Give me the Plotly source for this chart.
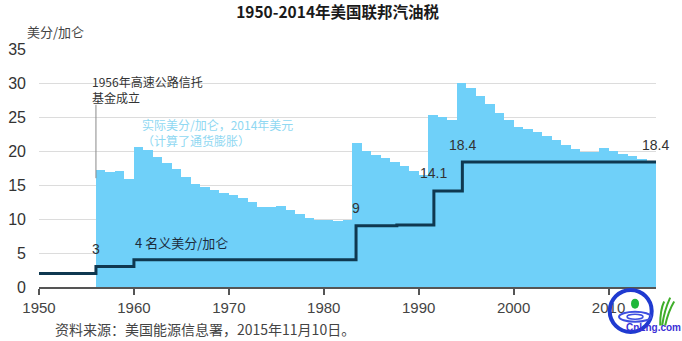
import plotly.graph_objects as go

# Real federal gasoline tax, cents per gallon in 2014 dollars (inflation adjusted)
real_years = list(range(1956, 2015))
real_cents = [
    17.2, 16.9, 17.0, 15.9,                                      # 1956-1959
    20.6, 20.2, 19.1, 18.2, 17.3, 16.2, 15.1, 14.7, 14.2, 13.8,  # 1960-1969
    13.5, 13.1, 12.5, 11.8, 11.8, 11.9, 11.3, 10.7, 10.1, 9.9,   # 1970-1979
    9.8, 9.7, 9.8, 21.2, 20.0, 19.4, 18.9, 18.4, 17.8, 17.1,     # 1980-1989
    16.5, 25.3, 25.0, 24.5, 30.0, 29.2, 28.1, 26.9, 25.6, 24.6,  # 1990-1999
    23.6, 23.2, 22.8, 22.2, 21.6, 20.9, 20.3, 19.9, 19.9, 20.4,  # 2000-2009
    20.0, 19.5, 19.2, 18.8, 18.6,                                # 2010-2014
]

# Nominal federal gasoline tax, cents per gallon (step changes)
nominal_years = [1950, 1956, 1960, 1983.4, 1987.7, 1991.6, 1994.6, 2015]
nominal_cents = [2, 3, 4, 9, 9.1, 14.1, 18.4, 18.4]

# Which nominal steps get a value label, and how far above the line it sits
label_idx = [1, 3, 5, 6, 7]
label_rise = [2.6, 2.6, 2.7, 2.5, 2.5]

x_ticks = [1950, 1960, 1970, 1980, 1990, 2000, 2010]
y_ticks = [0, 5, 10, 15, 20, 25, 30, 35]

LATIN = "Liberation Sans, Arial, Noto Sans CJK SC, sans-serif"
CJK = "Noto Sans CJK SC, Liberation Sans, sans-serif"
BLUE = "#6fd0f9"
NAVY = "#0f3850"

fig = go.Figure()

fig.add_trace(go.Bar(
    x=real_years, y=real_cents, offset=0, width=1,
    marker=dict(color=BLUE, line=dict(width=0)),
    hoverinfo="skip", showlegend=False,
))

fig.add_trace(go.Scatter(
    x=nominal_years, y=nominal_cents, mode="lines",
    line=dict(color=NAVY, width=3, shape="hv"),
    hoverinfo="skip", showlegend=False,
))

annotations = []
for i, rise in zip(label_idx, label_rise):
    v = nominal_cents[i]
    annotations.append(dict(
        x=nominal_years[i] if i < len(nominal_years) - 1 else nominal_years[i] - 0.1,
        y=v + rise, xref="x", yref="y", text=f"{v:g}", showarrow=False,
        font=dict(family=LATIN, size=14, color="#333333"),
        xanchor="center", yanchor="middle",
    ))

annotations += [
    # Highway Trust Fund note
    dict(x=1955.35, y=29.0, xref="x", yref="y", text="1956年高速公路信托<br>基金成立",
         showarrow=False, xanchor="left", yanchor="middle", align="left",
         font=dict(family=CJK, size=12, color="#333333")),
    dict(x=1960.6, y=22.7, xref="x", yref="y",
         text="实际美分/加仑，2014年美元<br>（计算了通货膨胀）",
         showarrow=False, xanchor="left", yanchor="middle", align="left",
         font=dict(family=CJK, size=12, color="#8fd8f2")),
    dict(x=1959.9, y=6.5, xref="x", yref="y", text="4 名义美分/加仑",
         showarrow=False, xanchor="left", yanchor="middle",
         font=dict(family=CJK, size=13, color="#1c2c3c")),
    dict(x=-0.023, y=1.075, xref="paper", yref="paper", text="美分/加仑",
         showarrow=False, xanchor="left", yanchor="middle",
         font=dict(family=CJK, size=13, color="#444444")),
    dict(x=0.022, y=-0.176, xref="paper", yref="paper",
         text="资料来源：美国能源信息署，2015年11月10日。",
         showarrow=False, xanchor="left", yanchor="middle",
         font=dict(family=CJK, size=14, color="#444444")),
    dict(x=0.948, y=-0.172, xref="paper", yref="paper", text="<b>CnLng.com</b>",
         showarrow=False, xanchor="left", yanchor="middle",
         font=dict(family=LATIN, size=10, color="#3b2fd6")),
]

shapes = [
    dict(type="line", xref="x", yref="y", x0=1956, x1=1956, y0=16.0, y1=26.8,
         line=dict(color="#8a8a8a", width=1)),
    # site badge: ring, ripples, drop and grass
    dict(type="circle", xref="paper", yref="paper", xsizemode="pixel", ysizemode="pixel",
         xanchor=0.959, yanchor=-0.101, x0=-21, x1=21, y0=-21, y1=21,
         line=dict(color="#1f3ad0", width=4)),
    dict(type="circle", xref="paper", yref="paper", xsizemode="pixel", ysizemode="pixel",
         xanchor=0.966, yanchor=-0.125, x0=-16, x1=16, y0=-5, y1=5,
         line=dict(color="#3d4fe0", width=2)),
    dict(type="circle", xref="paper", yref="paper", xsizemode="pixel", ysizemode="pixel",
         xanchor=0.966, yanchor=-0.125, x0=-8, x1=8, y0=-2.5, y1=2.5,
         line=dict(color="#3d4fe0", width=1.5)),
    dict(type="circle", xref="paper", yref="paper", xsizemode="pixel", ysizemode="pixel",
         xanchor=0.966, yanchor=-0.07, x0=-4, x1=4, y0=-5, y1=5,
         fillcolor="#1fb83a", line=dict(width=0)),
    dict(type="path", xref="paper", yref="paper", xsizemode="pixel", ysizemode="pixel",
         xanchor=1.01, yanchor=-0.12,
         path="M 0,-10 Q 2,5 8,18 M 3,-10 Q 6,4 12,14 M -2,-10 Q -2,6 2,14",
         line=dict(color="#3fae2a", width=2)),
]

fig.update_layout(
    width=682, height=341,
    margin=dict(l=39, r=26, t=49, b=54),
    paper_bgcolor="white", plot_bgcolor="white",
    title=dict(text="<b>1950-2014年美国联邦汽油税</b>", x=0.495, xref="container",
               xanchor="center", y=0.962, yref="container", yanchor="middle",
               font=dict(family=CJK, size=15.5, color="#1a1a1a")),
    xaxis=dict(range=[1950, 2015], tickvals=x_ticks, ticks="outside", ticklen=6,
               tickcolor="#555555", tickwidth=1.5, showline=True, linecolor="#555555",
               linewidth=1.5, showgrid=False, zeroline=False, automargin=False,
               tickfont=dict(family=LATIN, size=15, color="#444444")),
    yaxis=dict(range=[0, 35], tickvals=y_ticks, showgrid=True, gridcolor="#dcdcdc",
               gridwidth=1, zeroline=False, showline=False, ticks="",
               ticklabelstandoff=12, automargin=False,
               tickfont=dict(family=LATIN, size=16, color="#333333")),
    annotations=annotations, shapes=shapes, bargap=0,
)

fig.write_html("out.html")
